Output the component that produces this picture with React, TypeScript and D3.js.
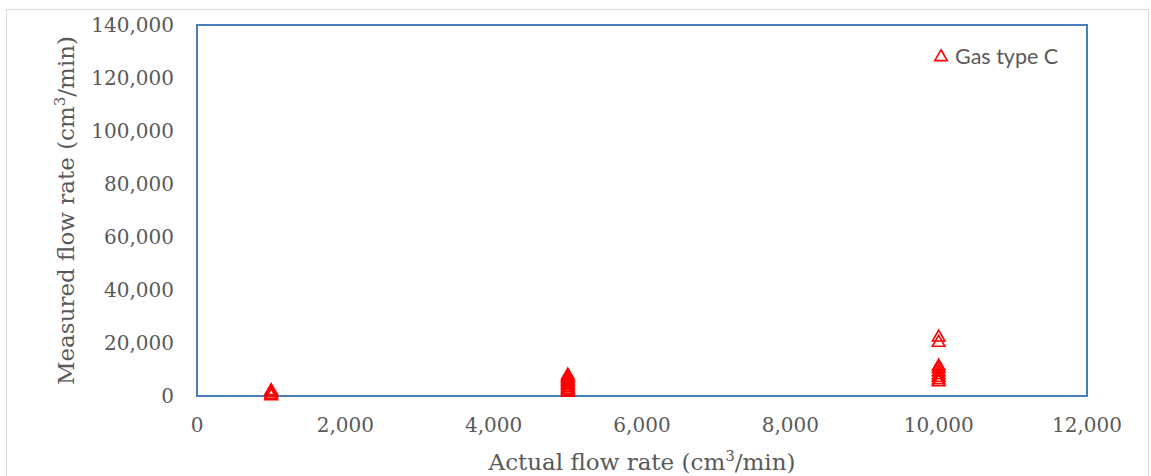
import React from 'react';
import * as d3 from 'd3';

// Gas type C readings (actual flow, measured flow), cm3/min
const actualFlow = [
  1000, 1000, 1000, 1000,
  5000, 5000, 5000, 5000, 5000, 5000, 5000, 5000, 5000, 5000, 5000, 5000,
  10000, 10000, 10000, 10000, 10000, 10000, 10000, 10000, 10000,
];
const measuredFlow = [
  2300, 1600, 900, 300,
  8200, 7500, 7000, 6400, 5800, 5200, 4600, 4000, 3400, 2800, 2200, 1700,
  22500, 20500, 11600, 10600, 9400, 8300, 7300, 6400, 5600,
];
const xTicks = [0, 2000, 4000, 6000, 8000, 10000, 12000];
const yTicks = [0, 20000, 40000, 60000, 80000, 100000, 120000, 140000];
const seriesName = 'Gas type C';

const W = 1151;
const H = 476;
const margin = { left: 197, right: 64, top: 25, bottom: 80 };

export default function App() {
  const x = d3.scaleLinear().domain([0, 12000]).range([margin.left, W - margin.right]);
  const y = d3.scaleLinear().domain([0, 140000]).range([H - margin.bottom, margin.top]);
  const fmt = d3.format(',');
  const tri = d3.symbol().type(d3.symbolTriangle).size(68)();
  const serif = '"DejaVu Serif", "Liberation Serif", serif';
  const sans = 'Lato, "Liberation Sans", sans-serif';

  return (
    <svg width={W} height={H} style={{ position: 'absolute', left: 0, top: 0, background: '#fff' }}>
      <rect x={6.5} y={9.5} width={W - 9} height={H} fill="#fff" stroke="#d9d9d9" strokeWidth={1} />
      <rect x={x(0)} y={y(140000)} width={x(12000) - x(0)} height={y(0) - y(140000)}
        fill="none" stroke="#4a7ebb" strokeWidth={2} />

      {yTicks.map(t => (
        <text key={'y' + t} x={174} y={y(t)} dy="0.36em" textAnchor="end"
          fontFamily={serif} fontSize={20} fill="#595959">{fmt(t)}</text>
      ))}
      {xTicks.map(t => (
        <text key={'x' + t} x={x(t)} y={432} textAnchor="middle"
          fontFamily={serif} fontSize={20} fill="#595959">{fmt(t)}</text>
      ))}

      {actualFlow.map((a, i) => (
        <path key={i} d={tri} transform={`translate(${x(a)},${y(measuredFlow[i]) + 1})`}
          fill="none" stroke="#ff0000" strokeWidth={1.6} />
      ))}

      <path d={tri} transform="translate(941,57)" fill="none" stroke="#ff0000" strokeWidth={1.6} />
      <text x={955} y={64} fontFamily={sans} fontSize={21.5} fill="#595959">{seriesName}</text>

      <text transform={`translate(74,${(y(0) + y(140000)) / 2}) rotate(-90)`} textAnchor="middle"
        fontFamily={serif} fontSize={23} fill="#595959">
        Measured flow rate (cm<tspan dy={-9} fontSize={15}>3</tspan><tspan dy={9}>/min)</tspan>
      </text>
      <text x={(x(0) + x(12000)) / 2} y={470} textAnchor="middle"
        fontFamily={serif} fontSize={23} fill="#595959">
        Actual flow rate (cm<tspan dy={-9} fontSize={15}>3</tspan><tspan dy={9}>/min)</tspan>
      </text>
    </svg>
  );
}
